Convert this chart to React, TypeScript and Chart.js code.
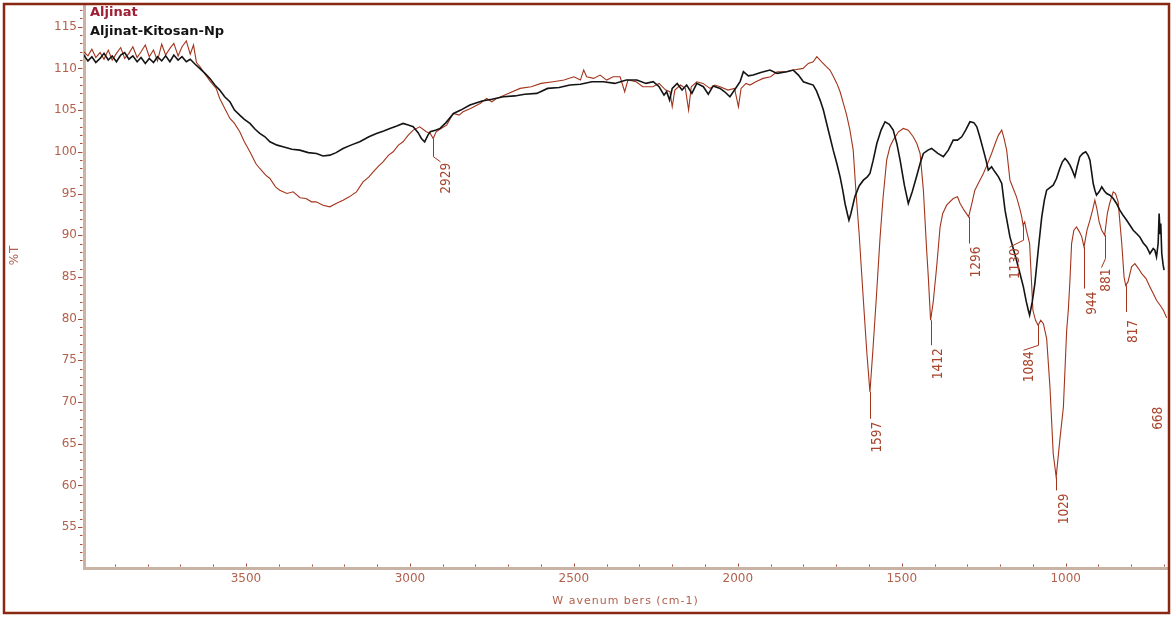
import React, { useEffect, useRef } from "react";
import { Chart, registerables } from "chart.js";

Chart.register(...registerables);

// [wavenumber (cm-1), %T]
const aljinat: [number, number][] = [
  [3995, 112.0], [3982, 111.5], [3970, 112.3], [3958, 111.3], [3945, 111.9], [3933, 111.1],
  [3920, 112.2], [3908, 111.0], [3895, 111.8], [3882, 112.5], [3870, 111.2], [3857, 111.8],
  [3845, 112.6], [3832, 111.3], [3820, 112.0], [3807, 112.8], [3795, 111.4], [3782, 112.2],
  [3770, 110.9], [3757, 112.9], [3745, 111.6], [3732, 112.4], [3720, 113.0], [3707, 111.5],
  [3695, 112.6], [3682, 113.3], [3670, 111.7], [3660, 112.8], [3651, 110.7], [3640, 110.2],
  [3630, 109.6], [3610, 108.5], [3591, 107.6], [3580, 106.4], [3570, 105.6], [3549, 104.0],
  [3535, 103.4], [3519, 102.4], [3505, 101.2], [3488, 100.0], [3470, 98.6], [3458, 98.0],
  [3440, 97.2], [3427, 96.8], [3410, 95.8], [3397, 95.4], [3375, 95.0], [3356, 95.2],
  [3335, 94.5], [3317, 94.4], [3300, 94.0], [3286, 94.0], [3265, 93.6], [3244, 93.4],
  [3225, 93.8], [3204, 94.2], [3185, 94.6], [3163, 95.2], [3143, 96.4], [3125, 97.0],
  [3112, 97.6], [3095, 98.3], [3082, 98.8], [3065, 99.6], [3051, 100.0], [3035, 100.8],
  [3021, 101.2], [3005, 102.0], [2990, 102.6], [2970, 103.0], [2950, 102.4], [2938, 102.2],
  [2929, 101.6], [2920, 102.4], [2905, 102.8], [2888, 103.2], [2868, 104.6], [2850, 104.4],
  [2838, 104.8], [2815, 105.2], [2786, 105.8], [2766, 106.4], [2750, 106.0], [2735, 106.4],
  [2700, 107.0], [2664, 107.6], [2630, 107.8], [2600, 108.2], [2563, 108.4], [2530, 108.6],
  [2500, 109.0], [2480, 108.6], [2470, 109.8], [2461, 109.0], [2440, 108.8], [2420, 109.2],
  [2400, 108.6], [2380, 109.0], [2359, 109.0], [2345, 107.2], [2335, 108.6], [2310, 108.4],
  [2290, 107.8], [2259, 107.8], [2240, 108.2], [2220, 107.4], [2207, 107.2], [2200, 105.4],
  [2192, 107.4], [2175, 108.0], [2160, 107.6], [2150, 105.0], [2142, 107.8], [2125, 108.4],
  [2106, 108.2], [2085, 107.6], [2070, 108.0], [2054, 107.8], [2030, 107.4], [2010, 107.6],
  [1998, 105.4], [1990, 107.6], [1975, 108.2], [1963, 108.0], [1945, 108.4], [1923, 108.8],
  [1900, 109.0], [1880, 109.6], [1851, 109.6], [1830, 109.8], [1801, 110.0], [1785, 110.6],
  [1770, 110.8], [1759, 111.4], [1745, 110.8], [1730, 110.2], [1719, 109.8], [1708, 109.0],
  [1698, 108.2], [1688, 107.2], [1678, 105.8], [1668, 104.4], [1658, 102.6], [1648, 100.2],
  [1640, 95.4], [1630, 90.2], [1617, 82.2], [1607, 76.2], [1597, 71.2], [1588, 76.2],
  [1578, 82.2], [1566, 89.8], [1557, 94.5], [1546, 99.0], [1536, 100.6], [1526, 101.4],
  [1510, 102.4], [1495, 102.8], [1480, 102.6], [1465, 101.8], [1454, 101.0], [1444, 99.8],
  [1434, 95.4], [1424, 88.2], [1419, 85.0], [1412, 79.8], [1404, 82.0], [1394, 86.0],
  [1383, 91.0], [1375, 92.6], [1363, 93.6], [1343, 94.4], [1330, 94.6], [1322, 93.8],
  [1310, 93.0], [1296, 92.2], [1285, 94.0], [1277, 95.4], [1264, 96.4], [1251, 97.4],
  [1240, 98.4], [1226, 99.8], [1215, 101.0], [1205, 102.0], [1195, 102.6], [1188, 101.6],
  [1180, 100.2], [1170, 96.6], [1160, 95.6], [1150, 94.6], [1140, 93.2], [1134, 92.2],
  [1130, 91.2], [1125, 91.6], [1120, 90.6], [1110, 89.0], [1100, 81.0], [1092, 79.8],
  [1084, 79.2], [1076, 79.8], [1068, 79.4], [1058, 77.6], [1048, 71.8], [1038, 63.8],
  [1029, 61.0], [1018, 65.4], [1007, 69.4], [997, 78.6], [992, 81.0], [987, 84.6],
  [982, 89.0], [975, 90.6], [967, 91.0], [958, 90.4], [951, 89.8], [944, 88.6],
  [935, 90.6], [926, 91.8], [918, 93.0], [911, 94.2], [905, 93.2], [898, 91.6],
  [890, 90.6], [881, 90.0], [873, 92.6], [866, 93.8], [855, 95.2], [848, 95.0],
  [840, 94.0], [829, 89.0], [822, 85.0], [817, 84.0], [810, 84.4], [799, 86.2],
  [789, 86.6], [778, 86.0], [768, 85.4], [755, 84.8], [743, 83.8], [733, 83.0],
  [723, 82.2], [712, 81.6], [702, 81.0], [692, 80.1],
];

const aljinatKitosan: [number, number][] = [
  [3995, 111.6], [3982, 110.9], [3970, 111.4], [3958, 110.7], [3945, 111.2], [3933, 111.8],
  [3920, 111.0], [3908, 111.5], [3895, 110.8], [3882, 111.6], [3870, 111.9], [3857, 111.1],
  [3845, 111.5], [3832, 110.8], [3820, 111.3], [3807, 110.6], [3795, 111.2], [3782, 110.7],
  [3770, 111.4], [3757, 110.9], [3745, 111.5], [3732, 110.8], [3720, 111.6], [3707, 111.0],
  [3695, 111.4], [3682, 110.8], [3670, 111.1], [3655, 110.5], [3641, 110.0], [3625, 109.4],
  [3610, 108.8], [3595, 108.0], [3580, 107.4], [3565, 106.6], [3549, 106.0], [3535, 105.0],
  [3519, 104.4], [3505, 103.9], [3488, 103.4], [3472, 102.7], [3458, 102.2], [3442, 101.8],
  [3427, 101.2], [3405, 100.8], [3387, 100.6], [3360, 100.3], [3336, 100.2], [3310, 99.9],
  [3285, 99.8], [3265, 99.5], [3244, 99.6], [3225, 99.9], [3204, 100.4], [3180, 100.8],
  [3153, 101.2], [3125, 101.8], [3102, 102.2], [3080, 102.5], [3061, 102.8], [3040, 103.1],
  [3021, 103.4], [3005, 103.2], [2990, 103.0], [2975, 102.3], [2965, 101.6], [2955, 101.2],
  [2945, 102.0], [2938, 102.4], [2920, 102.6], [2908, 102.8], [2890, 103.5], [2867, 104.6],
  [2845, 105.0], [2817, 105.6], [2780, 106.1], [2750, 106.3], [2715, 106.6], [2680, 106.7],
  [2650, 106.9], [2613, 107.0], [2580, 107.6], [2545, 107.7], [2512, 108.0], [2480, 108.1],
  [2445, 108.4], [2410, 108.4], [2375, 108.2], [2340, 108.6], [2308, 108.6], [2280, 108.2],
  [2258, 108.4], [2240, 107.8], [2225, 106.8], [2217, 107.2], [2208, 106.2], [2200, 107.6],
  [2185, 108.2], [2170, 107.4], [2156, 108.0], [2140, 107.0], [2125, 108.2], [2105, 107.8],
  [2090, 106.9], [2075, 107.9], [2054, 107.6], [2040, 107.2], [2024, 106.6], [2010, 107.4],
  [1993, 108.4], [1983, 109.6], [1968, 109.1], [1953, 109.2], [1930, 109.5], [1902, 109.8],
  [1880, 109.4], [1851, 109.6], [1831, 109.8], [1815, 109.2], [1800, 108.4], [1785, 108.2],
  [1770, 108.0], [1760, 107.3], [1749, 106.2], [1739, 105.0], [1729, 103.4], [1719, 101.8],
  [1709, 100.2], [1698, 98.6], [1688, 97.0], [1680, 95.4], [1673, 93.8], [1666, 92.6],
  [1661, 91.8], [1655, 92.6], [1643, 94.6], [1630, 95.9], [1617, 96.6], [1605, 97.0],
  [1597, 97.4], [1587, 99.0], [1576, 101.0], [1563, 102.6], [1551, 103.6], [1538, 103.3],
  [1526, 102.6], [1515, 101.0], [1505, 99.0], [1492, 96.0], [1480, 93.8], [1468, 95.2],
  [1455, 97.0], [1444, 98.6], [1434, 99.8], [1420, 100.2], [1409, 100.4], [1390, 99.8],
  [1373, 99.4], [1358, 100.2], [1343, 101.4], [1330, 101.4], [1317, 101.8], [1305, 102.6],
  [1292, 103.6], [1280, 103.5], [1271, 103.0], [1262, 101.8], [1251, 100.2], [1243, 99.0],
  [1236, 97.8], [1226, 98.2], [1216, 97.6], [1205, 97.0], [1195, 96.2], [1185, 93.0],
  [1170, 89.8], [1160, 88.4], [1150, 87.0], [1140, 85.5], [1129, 83.8], [1120, 82.0],
  [1114, 81.0], [1110, 80.4], [1102, 82.0], [1094, 84.2], [1083, 88.5], [1073, 92.2],
  [1065, 94.2], [1058, 95.4], [1048, 95.7], [1038, 96.0], [1028, 96.8], [1018, 98.0],
  [1010, 98.8], [1002, 99.2], [995, 98.9], [987, 98.4], [980, 97.8], [972, 97.0],
  [965, 98.2], [957, 99.4], [948, 99.8], [939, 100.0], [932, 99.6], [926, 99.0],
  [921, 97.6], [916, 96.2], [911, 95.4], [906, 94.8], [898, 95.2], [890, 95.8],
  [882, 95.3], [875, 95.0], [865, 94.8], [855, 94.4], [845, 93.8], [835, 93.0],
  [825, 92.4], [814, 91.8], [804, 91.2], [794, 90.6], [784, 90.2], [774, 89.8],
  [764, 89.1], [753, 88.6], [743, 87.8], [733, 88.4], [728, 88.2], [723, 87.4],
  [718, 89.0], [715, 92.6], [712, 90.2], [710, 91.4], [707, 87.8], [703, 86.5], [700, 85.8],
];

const seriesNames = ["Aljinat", "Aljinat-Kitosan-Np"];
const xTickValues = [3500, 3000, 2500, 2000, 1500, 1000];
const yTickValues = [55, 60, 65, 70, 75, 80, 85, 90, 95, 100, 105, 110, 115];
const xTitle = "W avenum bers (cm-1)";
const yTitle = "%T";

// peak annotations: wavenumber, %T where the leader starts, %T where it ends, label
const peakLabels = [
  { wn: 2929, from: 101.6, to: 99.4, text: "2929" },
  { wn: 1597, from: 71.2, to: 68.0, text: "1597" },
  { wn: 1412, from: 79.8, to: 76.8, text: "1412" },
  { wn: 1296, from: 92.2, to: 89.0, text: "1296" },
  { wn: 1130, from: 91.2, to: 89.4, text: "1130" },
  { wn: 1084, from: 79.2, to: 76.8, text: "1084" },
  { wn: 1029, from: 61.0, to: 59.4, text: "1029" },
  { wn: 944, from: 88.6, to: 83.6, text: "944" },
  { wn: 881, from: 90.0, to: 87.2, text: "881" },
  { wn: 817, from: 84.0, to: 80.8, text: "817" },
  { wn: 668, from: 69.8, to: 69.8, text: "668" },
];

const X_MIN = 691;
const X_MAX = 3994;
const Y_MIN = 50.1;
const Y_MAX = 117.6;

const RED = "#a3341c";
const LABEL = "#b3604c";
const TICK = "#a84a38";
const AXIS = "#c8b3a5";
const FRAME = "#8a2712";

// label nudges in px (dx of text centre from leader, gap below leader end)
const labelNudge: Record<string, { dx: number; gap: number; diag: boolean }> = {
  "2929": { dx: 13, gap: 5, diag: true },
  "1130": { dx: -8, gap: 7, diag: true },
  "1084": { dx: -9, gap: 5, diag: true },
  "881": { dx: 2, gap: 9, diag: true },
  "817": { dx: 8, gap: 7, diag: false },
};

const decor = {
  id: "decor",
  afterDraw(chart: any) {
    const ctx = chart.ctx as CanvasRenderingContext2D;
    const xs = chart.scales.x;
    const ys = chart.scales.y;
    const area = chart.chartArea;
    ctx.save();

    // y ticks (every 1 unit, major every 5)
    ctx.strokeStyle = TICK;
    ctx.lineWidth = 1;
    for (let v = Math.ceil(Y_MIN); v <= Math.floor(Y_MAX); v++) {
      const y = Math.round(ys.getPixelForValue(v)) + 0.5;
      const len = v % 5 === 0 ? 4.5 : 2.5;
      ctx.beginPath();
      ctx.moveTo(area.left - 1.5, y);
      ctx.lineTo(area.left - 1.5 - len, y);
      ctx.stroke();
    }
    // x ticks (every 100, major every 500)
    for (let v = 700; v <= 3900; v += 100) {
      const x = Math.round(xs.getPixelForValue(v)) + 0.5;
      const len = v % 500 === 0 ? 3 : 2;
      ctx.beginPath();
      ctx.moveTo(x, area.bottom - 1.5);
      ctx.lineTo(x, area.bottom - 1.5 - len);
      ctx.stroke();
    }

    // peak labels
    ctx.strokeStyle = RED;
    ctx.fillStyle = "#a8432c";
    ctx.lineWidth = 1;
    ctx.font = '13.5px "DejaVu Sans Condensed", sans-serif';
    for (const p of peakLabels) {
      const nud = labelNudge[p.text] || { dx: 8, gap: 2, diag: false };
      let x = xs.getPixelForValue(p.wn);
      const isOff = x > area.right - 4;
      if (isOff) x = area.right - 17;
      const y1 = ys.getPixelForValue(p.from);
      const y2 = ys.getPixelForValue(p.to);
      const lx = Math.round(x) + 0.5;
      if (!isOff) {
        ctx.beginPath();
        ctx.moveTo(lx, y1);
        ctx.lineTo(lx, y2);
        if (nud.diag) ctx.lineTo(lx + nud.dx - 6, y2 + nud.gap);
        ctx.stroke();
      }
      const tx = isOff ? x + 8 : x + nud.dx;
      const ty = y2 + nud.gap + 1;
      ctx.save();
      ctx.translate(tx, ty);
      ctx.rotate(-Math.PI / 2);
      ctx.textAlign = "right";
      ctx.textBaseline = "middle";
      ctx.fillText(p.text, 0, 0);
      ctx.restore();
    }

    // legend
    ctx.textAlign = "left";
    ctx.textBaseline = "middle";
    ctx.font = 'bold 13px "DejaVu Sans", sans-serif';
    ctx.fillStyle = "#9e1f33";
    ctx.fillText(seriesNames[0], 90, 13);
    ctx.fillStyle = "#141414";
    ctx.fillText(seriesNames[1], 90, 32);

    // axis titles
    ctx.fillStyle = LABEL;
    ctx.font = '11px "DejaVu Sans", sans-serif';
    (ctx as any).letterSpacing = "1px";
    ctx.textAlign = "center";
    ctx.fillText(xTitle, (area.left + area.right) / 2, 601);
    ctx.save();
    ctx.translate(15, 255);
    ctx.rotate(-Math.PI / 2);
    ctx.font = '12px "DejaVu Sans", sans-serif';
    ctx.fillText(yTitle, 0, 0);
    ctx.restore();
    (ctx as any).letterSpacing = "0px";

    // frame
    ctx.strokeStyle = FRAME;
    ctx.lineWidth = 2.5;
    ctx.strokeRect(4, 4, 1165, 609);
    ctx.restore();
  },
};

export default function App() {
  const ref = useRef<HTMLCanvasElement | null>(null);
  useEffect(() => {
    if (!ref.current) return;
    const chart = new Chart(ref.current, {
      type: "line",
      data: {
        datasets: [
          {
            label: seriesNames[1],
            data: aljinatKitosan.map(([x, y]) => ({ x, y })),
            borderColor: "#141414",
            borderWidth: 1.6,
            pointRadius: 0,
            tension: 0,
          },
          {
            label: seriesNames[0],
            data: aljinat.map(([x, y]) => ({ x, y })),
            borderColor: RED,
            borderWidth: 1.1,
            pointRadius: 0,
            tension: 0,
          },
        ],
      },
      options: {
        responsive: false,
        animation: false,
        devicePixelRatio: 1,
        layout: { padding: { left: 0, top: 5, right: 5, bottom: 0 } },
        plugins: { legend: { display: false }, tooltip: { enabled: false } },
        scales: {
          x: {
            type: "linear",
            reverse: true,
            min: X_MIN,
            max: X_MAX,
            afterBuildTicks: (s: any) => {
              s.ticks = xTickValues.map((v) => ({ value: v }));
            },
            afterFit: (s: any) => {
              s.height = 49;
              s.paddingLeft = 0;
              s.paddingRight = 0;
            },
            grid: { display: false, drawTicks: false },
            border: { display: true, color: AXIS, width: 3 },
            ticks: {
              color: LABEL,
              font: { family: "DejaVu Sans", size: 12 },
              padding: 4,
              maxRotation: 0,
              autoSkip: false,
              callback: (v: any) => String(v),
            },
          },
          y: {
            type: "linear",
            min: Y_MIN,
            max: Y_MAX,
            afterBuildTicks: (s: any) => {
              s.ticks = yTickValues.map((v) => ({ value: v }));
            },
            afterFit: (s: any) => {
              s.width = 84;
              s.paddingTop = 0;
              s.paddingBottom = 0;
            },
            grid: { display: false, drawTicks: false },
            border: { display: true, color: AXIS, width: 3 },
            ticks: {
              color: LABEL,
              font: { family: "DejaVu Sans", size: 12 },
              padding: 7,
              autoSkip: false,
              callback: (v: any) => String(v),
            },
          },
        },
      },
      plugins: [decor],
    } as any);
    return () => chart.destroy();
  }, []);
  return (
    <div style={{ position: "absolute", left: 0, top: 0, width: 1172, height: 617, background: "#fff" }}>
      <canvas ref={ref} width={1172} height={617} style={{ display: "block", width: 1172, height: 617 }} />
    </div>
  );
}
